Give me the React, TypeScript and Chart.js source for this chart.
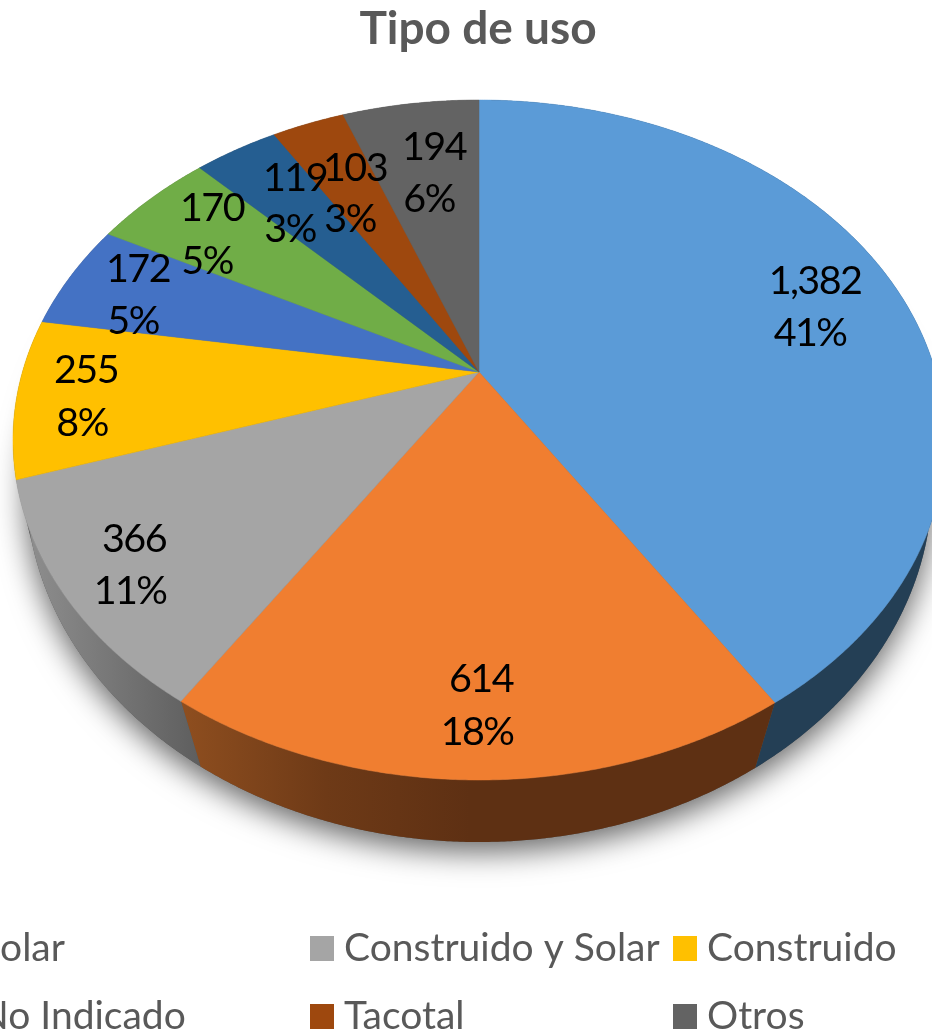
import React, { useEffect, useRef } from "react";
import { Chart, registerables } from "chart.js";

Chart.register(...registerables);

const TITLE = "Tipo de uso";
const categories = ["", "Solar", "Construido y Solar", "Construido", "", "", "No Indicado", "Tacotal", "Otros"];
const values = [1382, 614, 366, 255, 172, 170, 119, 103, 194];
const valueLabels = ["1,382", "614", "366", "255", "172", "170", "119", "103", "194"];
const percentLabels = ["41%", "18%", "11%", "8%", "5%", "5%", "3%", "3%", "6%"];
const colors = ["#5B9BD7", "#F07E30", "#A5A5A5", "#FFC000", "#4472C4", "#70AD47", "#255E91", "#9E480E", "#636363"];

const FONT = "Lato, Carlito, 'Open Sans', sans-serif";
const APEX = { x: 479, y: 372 };
const TOP = { a: 456.6, b: 326.4, c: 0.2, y0: 0 };
const BOTTOM = { a: 448, b: 349.7, c: 0.15, y0: 58.6 };

// Label centres (line 1 and line 2 share a block), pixels in the picture
const labelLayout = [
  [815, 281, 810, 333], [481, 679, 477, 732], [134, 539, 130, 591],
  [86, 370, 82, 423], [138, 269, 133, 321], [212, 208, 207, 261],
  [295, 178, 290, 229], [355, 168, 350, 219], [434, 147, 429, 199],
];
// Legend slots: index into categories, text x, row centre, swatch x (null when it lies off the page)
const legendSlots = [
  { i: 1, tx: -21, y: 948, sx: null },
  { i: 2, tx: 344, y: 948, sx: 310 },
  { i: 3, tx: 707, y: 948, sx: 673 },
  { i: 6, tx: -21, y: 1016, sx: null },
  { i: 7, tx: 344, y: 1016, sx: 310 },
  { i: 8, tx: 707, y: 1016, sx: 673 },
];

function project(p: typeof TOP, angle: number) {
  const u = Math.cos(angle);
  const v = Math.sin(angle);
  const w = 1 - p.c * v;
  return { x: APEX.x + (p.a * u) / w, y: APEX.y + p.y0 + (p.b * v) / w };
}

function arcPoints(p: typeof TOP, start: number, end: number) {
  const n = Math.max(2, Math.ceil(Math.abs(end - start) / 0.006));
  const pts = [];
  for (let k = 0; k <= n; k++) pts.push(project(p, start + ((end - start) * k) / n));
  return pts;
}

function wallFill(ctx: CanvasRenderingContext2D, i: number) {
  if (i === 1) {
    const g = ctx.createLinearGradient(183, 0, 470, 0);
    g.addColorStop(0, "#8E4E1F");
    g.addColorStop(0.5, "#6E3A17");
    g.addColorStop(1, "#5E3013");
    return g;
  }
  if (i === 2) {
    const g = ctx.createLinearGradient(35, 0, 200, 0);
    g.addColorStop(0, "#8C8C8C");
    g.addColorStop(1, "#5E5E5E");
    return g;
  }
  return i === 0 ? "#243F55" : "#555555";
}

const perspectivePie = {
  id: "perspectivePie",
  beforeDatasetsDraw(chart: any) {
    const ctx: CanvasRenderingContext2D = chart.ctx;
    const arcs = chart.getDatasetMeta(0).data;
    ctx.save();
    // cast shadow below the base
    ctx.save();
    ctx.shadowColor = "rgba(0,0,0,0.6)";
    ctx.shadowBlur = 30;
    ctx.shadowOffsetY = 10;
    ctx.fillStyle = "#555555";
    ctx.beginPath();
    arcPoints(BOTTOM, 0, Math.PI * 2).forEach((q, k) => (k ? ctx.lineTo(q.x, q.y) : ctx.moveTo(q.x, q.y)));
    ctx.closePath();
    ctx.fill();
    ctx.restore();
    // side walls
    arcs.forEach((arc: any, i: number) => {
      const fill = wallFill(ctx, i);
      const a = arcPoints(TOP, arc.startAngle, arc.endAngle);
      const b = arcPoints(BOTTOM, arc.startAngle, arc.endAngle).reverse();
      ctx.beginPath();
      [...a, ...b].forEach((q, k) => (k ? ctx.lineTo(q.x, q.y) : ctx.moveTo(q.x, q.y)));
      ctx.closePath();
      ctx.fillStyle = fill;
      ctx.fill();
    });
    // top face
    arcs.forEach((arc: any, i: number) => {
      ctx.beginPath();
      ctx.moveTo(APEX.x, APEX.y);
      arcPoints(TOP, arc.startAngle, arc.endAngle).forEach((q) => ctx.lineTo(q.x, q.y));
      ctx.closePath();
      ctx.fillStyle = colors[i];
      ctx.strokeStyle = colors[i];
      ctx.lineWidth = 0.5;
      ctx.fill();
      ctx.stroke();
    });
    ctx.restore();
    return false;
  },
  afterDraw(chart: any) {
    const ctx: CanvasRenderingContext2D = chart.ctx;
    ctx.save();
    ctx.textBaseline = "middle";
    // data labels
    ctx.font = `39.5px ${FONT}`;
    ctx.fillStyle = "#000000";
    ctx.textAlign = "center";
    (ctx as any).letterSpacing = "-1.6px";
    values.forEach((_, i) => {
      const [x1, y1, x2, y2] = labelLayout[i];
      ctx.fillText(valueLabels[i], x1, y1);
      ctx.fillText(percentLabels[i], x2, y2);
    });
    // legend
    ctx.font = `39px ${FONT}`;
    ctx.textAlign = "left";
    (ctx as any).letterSpacing = "0px";
    legendSlots.forEach((s) => {
      if (s.sx !== null) {
        ctx.fillStyle = colors[s.i];
        ctx.fillRect(s.sx, s.y - 12, 24, 25);
      }
      ctx.fillStyle = "#595959";
      ctx.fillText(categories[s.i], s.tx, s.y);
    });
    ctx.restore();
  },
};

export default function App() {
  const ref = useRef<HTMLCanvasElement>(null);
  useEffect(() => {
    const chart = new Chart(ref.current!, {
      type: "pie",
      data: {
        labels: categories,
        datasets: [{ data: values, backgroundColor: colors, borderWidth: 0 }],
      },
      options: {
        animation: false,
        responsive: false,
        layout: { padding: { left: 24 } },
        plugins: {
          legend: { display: false },
          tooltip: { enabled: false },
          title: {
            display: true,
            text: TITLE,
            color: "#595959",
            font: { family: FONT, size: 46, weight: "bold" },
            padding: { top: 2, bottom: 10 },
          },
        },
      },
      plugins: [perspectivePie],
    } as any);
    return () => chart.destroy();
  }, []);
  return (
    <div style={{ position: "absolute", left: 0, top: 0, width: 932, height: 1034, overflow: "hidden" }}>
      <canvas ref={ref} width={932} height={1034} style={{ display: "block" }} />
    </div>
  );
}
